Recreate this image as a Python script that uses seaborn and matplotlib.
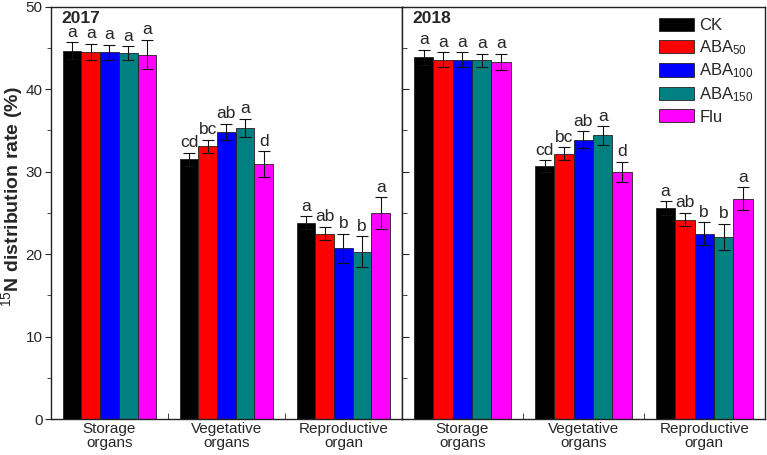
import numpy as np
import pandas as pd
import matplotlib
matplotlib.use("Agg")
import matplotlib.pyplot as plt
import seaborn as sns
from matplotlib.ticker import MultipleLocator

# 数据
organs = ["Storage\norgans", "Vegetative\norgans", "Reproductive\norgan"]
treatments = ["CK", "ABA$_{50}$", "ABA$_{100}$", "ABA$_{150}$", "Flu"]
colors = ["#000000", "#ff0000", "#0000ff", "#008080", "#ff00ff"]

# 2017: 每个器官按处理顺序
mean_2017 = [
    [44.7, 44.5, 44.5, 44.4, 44.2],
    [31.5, 33.1, 34.8, 35.3, 30.9],
    [23.8, 22.5, 20.7, 20.3, 25.0],
]
err_2017 = [
    [1.0, 1.0, 0.9, 0.8, 1.8],
    [0.8, 0.8, 1.0, 1.1, 1.6],
    [0.8, 0.8, 1.8, 1.9, 1.9],
]
sig_2017 = [
    ["a", "a", "a", "a", "a"],
    ["cd", "bc", "ab", "a", "d"],
    ["a", "ab", "b", "b", "a"],
]

mean_2018 = [
    [43.9, 43.6, 43.6, 43.5, 43.3],
    [30.7, 32.2, 33.9, 34.4, 30.0],
    [25.6, 24.2, 22.5, 22.1, 26.7],
]
err_2018 = [
    [0.9, 0.9, 0.9, 0.8, 1.0],
    [0.7, 0.8, 1.0, 1.1, 1.2],
    [0.8, 0.8, 1.4, 1.6, 1.4],
]
sig_2018 = [
    ["a", "a", "a", "a", "a"],
    ["cd", "bc", "ab", "a", "d"],
    ["a", "ab", "b", "b", "a"],
]


def make_df(means, errs, sigs):
    rows = []
    for i, organ in enumerate(organs):
        for j, trt in enumerate(treatments):
            rows.append({"organ": organ, "treatment": trt,
                         "value": means[i][j], "err": errs[i][j], "sig": sigs[i][j]})
    return pd.DataFrame(rows)


sns.set_style("ticks")
plt.rcParams['font.family'] = ['Liberation Sans', 'DejaVu Sans']
plt.rcParams['mathtext.fontset'] = 'custom'
plt.rcParams['mathtext.rm'] = 'Liberation Sans'
plt.rcParams['mathtext.it'] = 'Liberation Sans'
plt.rcParams['mathtext.bf'] = 'Liberation Sans:bold'

fig = plt.figure(figsize=(7.67, 4.55), dpi=100)
gs = fig.add_gridspec(1, 2, width_ratios=[351, 363], wspace=0,
                      left=0.0665, right=0.997, bottom=0.079, top=0.985)
ax1 = fig.add_subplot(gs[0])
ax2 = fig.add_subplot(gs[1], sharey=ax1)


def draw_panel(ax, df, year):
    sns.barplot(data=df, x="organ", y="value", hue="treatment",
                palette=colors, hue_order=treatments, order=organs,
                errorbar=None, width=0.8, edgecolor="#222222", linewidth=0.6,
                saturation=1, ax=ax, legend=(year == "2018"))
    # 误差线和显著性字母
    bar_conts = list(ax.containers)
    for j, cont in enumerate(bar_conts):
        sub = df[df["treatment"] == treatments[j]].set_index("organ").loc[organs]
        for bar, (_, r) in zip(cont.patches, sub.iterrows()):
            xc = bar.get_x() + bar.get_width() / 2
            ax.errorbar(xc, r["value"], yerr=r["err"], fmt="none",
                        ecolor="#111111", elinewidth=0.8, capsize=4, capthick=0.8)
            ax.text(xc, r["value"] + r["err"] + 0.3, r["sig"],
                    ha="center", va="bottom", fontsize=12.5)
    ax.set_xlim(-0.5, 2.5)
    ax.set_ylim(0, 50)
    ax.set_xlabel("")
    ax.text(0.03, 0.99, year, transform=ax.transAxes, fontsize=12.5,
            fontweight="bold", va="top", ha="left")
    ax.tick_params(axis="x", which="major", length=0, labelsize=11, pad=2)
    for lbl in ax.get_xticklabels():
        lbl.set_linespacing(1.0)
    ax.set_xticks([0.5, 1.5], minor=True)
    ax.tick_params(axis="x", which="minor", direction="in", length=4)
    for s in ax.spines.values():
        s.set_visible(True)
        s.set_linewidth(1.0)
        s.set_color("#222222")


draw_panel(ax1, make_df(mean_2017, err_2017, sig_2017), "2017")
draw_panel(ax2, make_df(mean_2018, err_2018, sig_2018), "2018")

ax1.yaxis.set_major_locator(MultipleLocator(10))
ax1.yaxis.set_minor_locator(MultipleLocator(5))
ax1.tick_params(axis="y", which="major", direction="out", length=4.5, labelsize=11, pad=1.5)
ax1.tick_params(axis="y", which="minor", direction="out", length=3)
ax1.set_ylabel("")
fig.text(12 / 767, 1 - 197 / 455, "$^{15}$N distribution rate (%)", rotation=90,
         ha="center", va="center", fontsize=14, fontweight="bold")

ax2.tick_params(axis="y", which="major", direction="in", length=5, labelleft=False)
ax2.tick_params(axis="y", which="minor", direction="in", length=3.5)
ax2.set_ylabel("")

leg = ax2.legend(loc="upper right", frameon=False, fontsize=12,
                 handlelength=2.1, handleheight=0.85, labelspacing=0.3,
                 handletextpad=0.3, borderaxespad=0.25)
for h in leg.get_patches():
    h.set_edgecolor("#222222")

plt.savefig("out.png", dpi=100)
